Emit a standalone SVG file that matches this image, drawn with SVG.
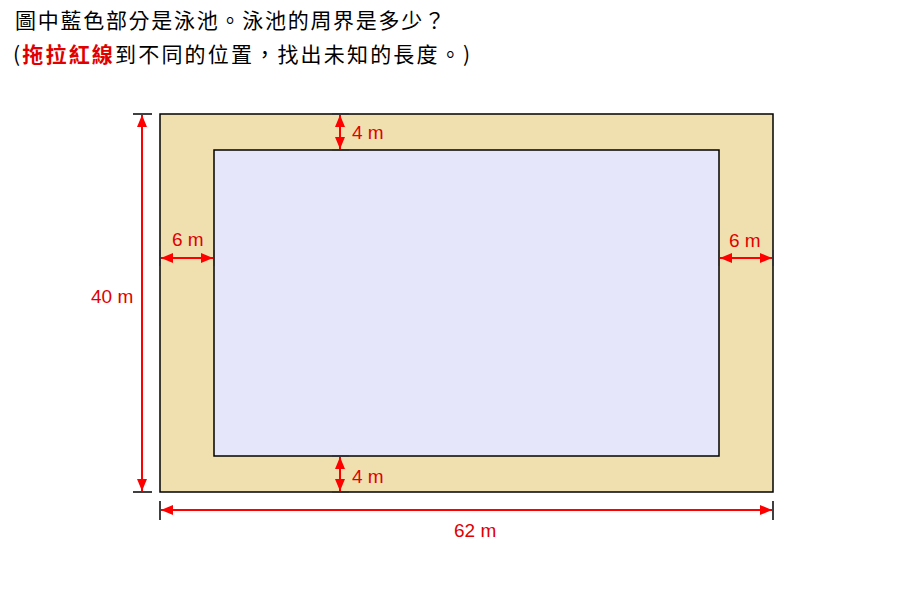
<svg xmlns="http://www.w3.org/2000/svg" width="900" height="600" viewBox="0 0 900 600">
<style>
.t{font-family:"Noto Sans CJK TC","Noto Sans CJK SC",sans-serif;font-size:21px;fill:#000}
.lbl{font-family:"Liberation Sans",Arial,sans-serif;font-size:19px;fill:#e00000}
.dim{stroke:#ff0000;stroke-width:2;fill:none;marker-start:url(#ah);marker-end:url(#ah)}
.tick{stroke:#000;stroke-width:1.5}
.dtick{stroke:#333;stroke-width:2}
</style>
<defs>
<marker id="ah" viewBox="0 0 12 10" refX="12" refY="5" markerWidth="12" markerHeight="10" markerUnits="userSpaceOnUse" orient="auto-start-reverse">
<path d="M0,0 L12,5 L0,10 Z" fill="#ff0000"/>
</marker>
</defs>
<rect width="900" height="600" fill="#fff"/>
<text class="t" x="15" y="28" textLength="430" lengthAdjust="spacing">圖中藍色部分是泳池。泳池的周界是多少？</text>
<text class="t" x="13" y="62" textLength="457" lengthAdjust="spacing">(<tspan fill="#e00000" font-weight="bold">拖拉紅線</tspan>到不同的位置，找出未知的長度。)</text>
<g id="deck"><rect x="160" y="114" width="613" height="378" fill="#f0e0b0" stroke="#000" stroke-width="1.5"/></g>
<g id="pool"><rect x="214" y="150" width="505" height="306" fill="#e6e6fa" stroke="#000" stroke-width="1.5"/></g>
<g id="connectors">
<line class="tick" x1="133" y1="114" x2="152" y2="114"/>
<line class="tick" x1="133" y1="492" x2="152" y2="492"/>
<line class="dim" x1="142" y1="115" x2="142" y2="491"/>
<line class="tick" x1="160" y1="501" x2="160" y2="520"/>
<line class="tick" x1="773" y1="501" x2="773" y2="520"/>
<line class="dim" x1="161" y1="510" x2="772" y2="510"/>
<line class="dtick" x1="332" y1="114" x2="349" y2="114"/>
<line class="dtick" x1="332" y1="150" x2="349" y2="150"/>
<line class="dim" x1="340" y1="115" x2="340" y2="149"/>
<line class="dtick" x1="332" y1="456" x2="349" y2="456"/>
<line class="dtick" x1="332" y1="492" x2="349" y2="492"/>
<line class="dim" x1="340" y1="457" x2="340" y2="491"/>
<line class="dtick" x1="160" y1="250" x2="160" y2="266"/>
<line class="dtick" x1="214" y1="250" x2="214" y2="266"/>
<line class="dim" x1="161" y1="258" x2="213" y2="258"/>
<line class="dtick" x1="719" y1="250" x2="719" y2="266"/>
<line class="dtick" x1="773" y1="250" x2="773" y2="266"/>
<line class="dim" x1="720" y1="258" x2="772" y2="258"/>
</g>
<g id="labels">
<text class="lbl" x="91" y="303">40 m</text>
<text class="lbl" x="454" y="537">62 m</text>
<text class="lbl" x="352" y="139">4 m</text>
<text class="lbl" x="352" y="483">4 m</text>
<text class="lbl" x="172" y="246">6 m</text>
<text class="lbl" x="729" y="247">6 m</text>
</g>
</svg>
